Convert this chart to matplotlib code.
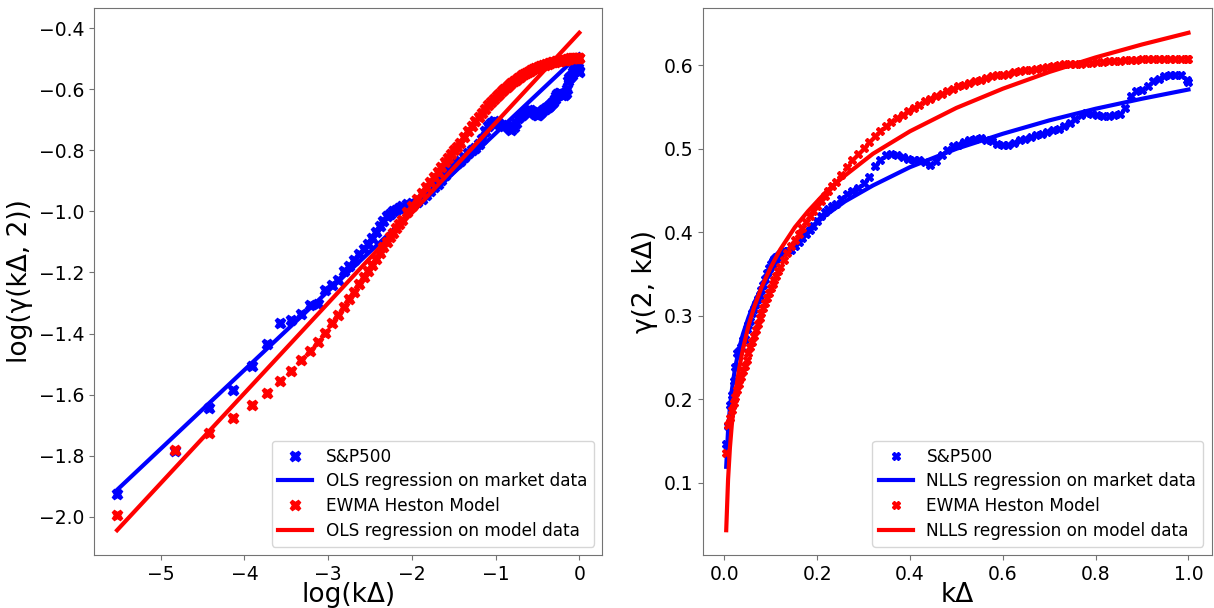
import numpy as np
import matplotlib
matplotlib.use('Agg')
import matplotlib.pyplot as plt

# lag grid k (Delta = 1/250)
lags = np.concatenate([np.arange(1, 31), np.arange(32, 61, 2), np.arange(63, 250, 3), [250]])

# gamma(2, k*Delta) estimated on S&P500
sp500 = [.146, .168, .193, .205, .222, .238, .255, .258, .263, .271,
         .272, .284, .289, .294, .303, .308, .314, .320, .325, .331,
         .337, .344, .351, .357, .362, .365, .368, .370, .372, .374,
         .377, .378, .379, .383, .388, .393, .398, .403, .408, .414,
         .420, .424, .428, .431, .434,
         .440, .446, .450, .453, .459, .466, .479, .487, .492, .494,
         .493, .490, .488, .487, .486, .484, .481, .485, .492, .499,
         .503, .505, .508, .511, .512, .513, .511, .509, .506, .505,
         .505, .507, .510, .512, .514, .516, .518, .520, .522, .524,
         .527, .531, .536, .540, .543, .542, .541, .539, .539, .540,
         .542, .549, .563, .569, .571, .575, .581, .584, .587, .589,
         .589, .588, .583, .580]

# gamma(2, k*Delta) on simulated EWMA Heston paths
heston = [.136, .1685, .178, .187, .195, .203, .211, .2185, .2263, .2332,
          .2402, .2474, .255, .262, .269, .276, .283, .290, .297, .303,
          .309, .315, .321, .327, .333, .338, .343, .348, .353, .358,
          .367, .375, .383, .391, .398, .405, .412, .419, .426, .432,
          .438, .444, .450, .455, .460,
          .469, .478, .486, .494, .501, .508, .515, .521, .527, .532,
          .537, .541, .545, .549, .553, .557, .560, .563, .566, .569,
          .572, .575, .577, .579, .581, .583, .585, .587, .588, .589,
          .590, .592, .593, .594, .595, .596, .597, .598, .599, .600,
          .601, .601, .602, .602, .603, .603, .604, .604, .605, .605,
          .605, .606, .606, .606, .607, .607, .607, .607, .607, .608,
          .608, .608, .608, .608]

# OLS fits in log-log space, value at first and last lag
ols_market = [-1.912, -0.486]
ols_model = [-2.044, -0.415]

# NLLS fitted curves
fit_lags = np.array([1, 2, 3, 4, 5, 6, 8, 10, 13, 16, 20, 25, 30, 38, 45, 55, 65, 80,
                     100, 125, 150, 175, 200, 225, 250])
nlls_market = [.119, .163, .190, .210, .226, .240, .261, .278, .298, .315, .333, .352, .368,
               .388, .403, .421, .437, .456, .478, .500, .518, .534, .548, .560, .571]
nlls_model = [.043, .104, .142, .169, .190, .208, .237, .260, .288, .310, .334, .358, .379,
              .406, .425, .449, .468, .494, .521, .549, .572, .592, .6095, .625, .639]

dt = lags / 250
sp500 = np.array(sp500)
heston = np.array(heston)

fig, (ax1, ax2) = plt.subplots(1, 2, figsize=(12.14, 6.08), dpi=100)
plt.subplots_adjust(left=0.0774, right=0.998, bottom=0.087, top=0.987, wspace=0.198)

# log-log view with OLS lines
ax1.plot(np.log(dt), np.log(sp500), 'X', color='blue', ms=7.5, label='S&P500')
ax1.plot(np.log(dt[[0, -1]]), ols_market, color='blue', lw=3, label='OLS regression on market data')
ax1.plot(np.log(dt), np.log(heston), 'X', color='red', ms=7.5, label='EWMA Heston Model')
ax1.plot(np.log(dt[[0, -1]]), ols_model, color='red', lw=3, label='OLS regression on model data')
ax1.set_xlabel('log(kΔ)', fontsize=19, labelpad=-1)
ax1.set_ylabel('log(γ(kΔ, 2))', fontsize=19)

# linear view with NLLS curves
ax2.plot(dt, sp500, 'X', color='blue', ms=6, label='S&P500')
ax2.plot(fit_lags / 250, nlls_market, color='blue', lw=3, label='NLLS regression on market data')
ax2.plot(dt, heston, 'X', color='red', ms=6, label='EWMA Heston Model')
ax2.plot(fit_lags / 250, nlls_model, color='red', lw=3, label='NLLS regression on model data')
ax2.set_xlabel('kΔ', fontsize=19, labelpad=-1)
ax2.set_ylabel('γ(2, kΔ)', fontsize=19)

for ax in (ax1, ax2):
    ax.tick_params(labelsize=13.5, color='0.45')
    for s in ax.spines.values():
        s.set_color('0.45')
    ax.legend(loc='lower right', fontsize=12.2, labelspacing=0.4)

plt.savefig('out.png')
